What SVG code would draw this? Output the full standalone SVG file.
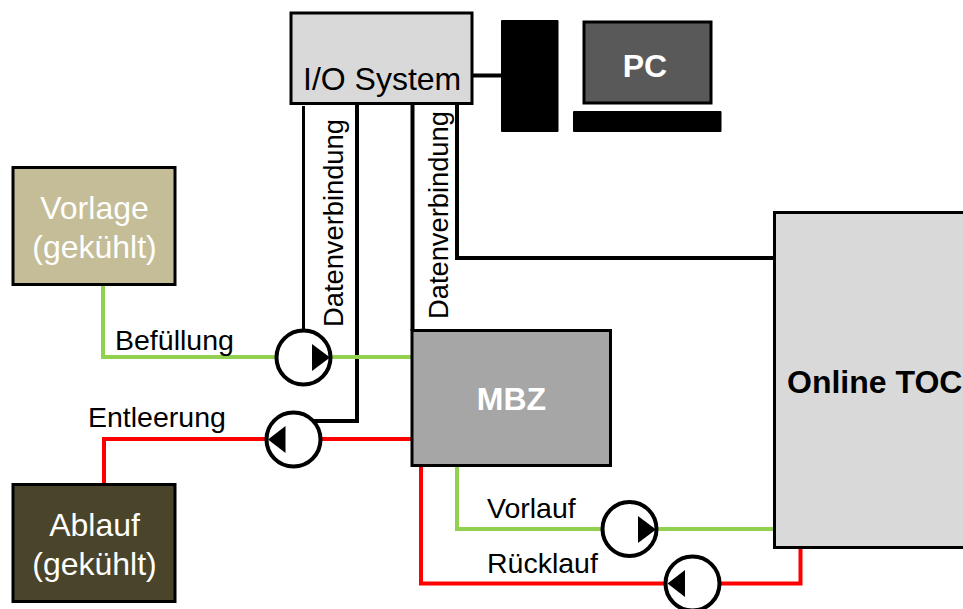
<svg xmlns="http://www.w3.org/2000/svg" width="963" height="609" viewBox="0 0 963 609">
<style>
text{font-family:"Liberation Sans",Arial,sans-serif;font-size:32px;fill:#000}
.w{fill:#fff}
.b{font-weight:bold}
.s{font-size:28.500px}
.v{font-size:27.300px}
.box{stroke:#000;stroke-width:3}
.k{fill:none;stroke:#000;stroke-width:4}
.g{fill:none;stroke:#92D050;stroke-width:4}
.r{fill:none;stroke:#FF0000;stroke-width:4}
.pump{fill:#fff;stroke:#000;stroke-width:4}
</style>
<g id="connectors">
<path class="k" d="M473 75.500H501"/>
<path class="k" style="stroke-width:3" d="M303.500 106V331"/>
<path class="k" d="M357 104V421H314"/>
<path class="k" d="M412.500 104V331"/>
<path class="k" d="M457 104V258H775"/>
<path class="g" d="M103 286V357H277"/>
<path class="g" d="M331 357H411"/>
<path class="r" d="M104 484V439H266"/>
<path class="r" d="M322 439H411"/>
<path class="g" d="M457 467V529H602"/>
<path class="g" d="M658 529H774"/>
<path class="r" d="M421 467V583.500H665"/>
<path class="r" d="M721 583.500H800.500V549"/>
</g>
<g id="io-system"><rect class="box" x="291" y="13" width="181" height="90.500" fill="#D9D9D9"/><text x="303" y="90">I/O System</text></g>
<g id="tower"><rect x="501" y="20" width="57.500" height="112" rx="1" fill="#000"/></g>
<g id="pc"><rect class="box" x="584" y="22" width="127" height="81" fill="#595959"/><text class="w b" x="645" y="76.500" text-anchor="middle">PC</text></g>
<g id="keyboard"><rect x="573" y="111" width="148.500" height="21" rx="1" fill="#000"/></g>
<g id="vorlage"><rect class="box" x="13" y="167.500" width="162" height="117" fill="#C4BD97"/><text class="w" x="94.500" y="219" text-anchor="middle">Vorlage</text><text class="w" x="94.500" y="258" text-anchor="middle">(gekühlt)</text></g>
<g id="ablauf"><rect class="box" x="13" y="484.500" width="162" height="117" fill="#4A452A"/><text class="w" x="94.500" y="536" text-anchor="middle">Ablauf</text><text class="w" x="94.500" y="575" text-anchor="middle">(gekühlt)</text></g>
<g id="mbz"><rect class="box" x="412" y="330.500" width="198.500" height="135" fill="#A6A6A6"/><text class="w b" x="511.500" y="410" text-anchor="middle">MBZ</text></g>
<g id="online-toc"><rect class="box" x="774.500" y="212.500" width="200" height="335" fill="#D9D9D9"/><text class="b" x="787" y="392.500">Online TOC</text></g>
<g id="pump-befuellung"><circle class="pump" cx="303.500" cy="357.500" r="27"/><path d="M312 344L330 357.500L312 371Z"/></g>
<g id="pump-entleerung"><circle class="pump" cx="293.500" cy="439.500" r="27"/><path d="M285.500 426L268 439.500L285.500 453Z"/></g>
<g id="pump-vorlauf"><circle class="pump" cx="629.500" cy="529" r="27"/><path d="M638 516L656 529.500L638 543Z"/></g>
<g id="pump-ruecklauf"><circle class="pump" cx="692.500" cy="583.500" r="27"/><path d="M685 570L667.500 583.500L685 597Z"/></g>
<g id="labels">
<text class="s" x="115" y="349.500">Befüllung</text>
<text class="s" x="88" y="427">Entleerung</text>
<text class="s" x="487" y="518">Vorlauf</text>
<text class="s" x="487" y="573">Rücklauf</text>
<text class="v" transform="translate(343 327) rotate(-90)">Datenverbindung</text>
<text class="v" transform="translate(448 319) rotate(-90)">Datenverbindung</text>
</g>
</svg>
